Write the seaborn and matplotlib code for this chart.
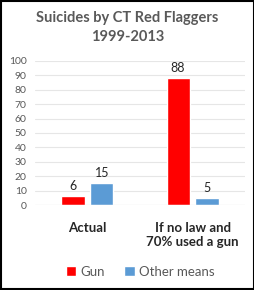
import seaborn as sns
import matplotlib.pyplot as plt
import pandas as pd
from matplotlib.patches import Rectangle

categories = ['Actual', 'If no law and\n70% used a gun']
series = ['Gun', 'Other means']
gun = [6, 88]
other = [15, 5]

df = pd.DataFrame({
    'category': categories * 2,
    'series': [series[0]] * 2 + [series[1]] * 2,
    'value': gun + other,
})

sns.set_style('white')
plt.rcParams['font.family'] = ['Lato', 'DejaVu Sans']

fig = plt.figure(figsize=(2.55, 2.9), dpi=100)
ax = fig.add_axes([0.137, 0.293, 0.824, 0.497])

sns.barplot(data=df, x='category', y='value', hue='series', order=categories,
            hue_order=series, palette=['#FF0000', '#5B9BD5'], saturation=1,
            width=0.55, gap=0.2, ax=ax, legend=True)

for cont in ax.containers:
    ax.bar_label(cont, fontsize=9, color='#262626', padding=3)

ax.set_ylim(0, 100)
ax.set_xlim(-0.5, 1.5)
ax.set_yticks(range(0, 101, 10))
ax.tick_params(axis='y', labelsize=7.5, colors='#595959', length=0, pad=6)
ax.tick_params(axis='x', labelsize=9.5, length=0, pad=12)
for lbl in ax.get_xticklabels():
    lbl.set_fontweight('bold')
    lbl.set_color('#262626')
ax.yaxis.grid(True, color='#E6E6E6', linewidth=0.8)
ax.set_axisbelow(True)
ax.set_xlabel('')
ax.set_ylabel('')
sns.despine(ax=ax, left=True, bottom=True)
ax.axhline(0, color='#D9D9D9', linewidth=0.8)

ax.legend(loc='upper center', bbox_to_anchor=(0.5, -0.34), ncol=2, frameon=False,
          fontsize=9.5, handlelength=0.8, handleheight=0.8, handletextpad=0.3,
          columnspacing=1.5, labelcolor='#595959')

fig.text(0.5, 0.905, 'Suicides by CT Red Flaggers\n1999-2013', ha='center', va='center',
         fontsize=10.5, fontweight='bold', color='#595959', linespacing=1.5)

fig.patches.append(Rectangle((0.004, 0.004), 0.992, 0.992, transform=fig.transFigure,
                             fill=False, edgecolor='black', linewidth=1.5))

fig.savefig('out.png', dpi=100)
